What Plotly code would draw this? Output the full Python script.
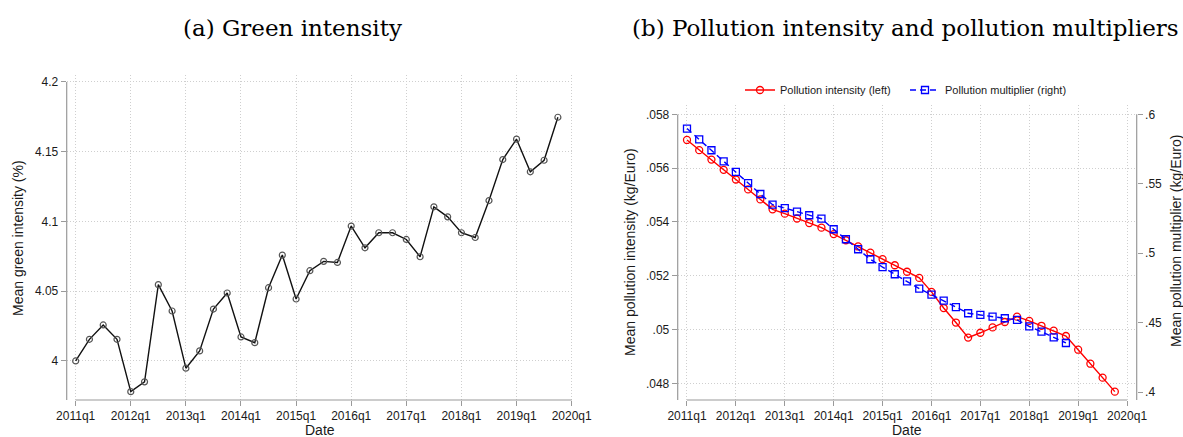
import plotly.graph_objects as go

# ---------------- data ----------------
quarters = [f"{y}q{q}" for y in range(2011, 2020) for q in range(1, 5)]
tick_labels = [f"{y}q1" for y in range(2011, 2021)]

green_intensity = [4.000, 4.0155, 4.0258, 4.0155, 3.978, 3.985, 4.0547, 4.0358,
                   3.9948, 4.0072, 4.0372, 4.0487, 4.0172, 4.0131, 4.0525, 4.0759,
                   4.0444, 4.0647, 4.0714, 4.0706, 4.0967, 4.0811, 4.0919, 4.0919,
                   4.0871, 4.0747, 4.1105, 4.1033, 4.0919, 4.0885, 4.115, 4.1444,
                   4.159, 4.1356, 4.1439, 4.1747]

pollution_intensity = [0.05705, 0.05667, 0.05632, 0.05594, 0.05558, 0.05521, 0.05484, 0.05447,
                       0.05431, 0.05413, 0.05396, 0.05379, 0.05355, 0.05332, 0.05309, 0.05286,
                       0.05262, 0.05239, 0.05215, 0.05192, 0.0514, 0.0508, 0.05026, 0.0497,
                       0.04988, 0.05008, 0.05028, 0.05048, 0.05032, 0.05014, 0.04996, 0.04976,
                       0.04925, 0.04873, 0.04821, 0.04769]

pollution_multiplier = [0.5897, 0.582, 0.5741, 0.5661, 0.5585, 0.5505, 0.5426, 0.5349,
                        0.5325, 0.5299, 0.5273, 0.5248, 0.5172, 0.51, 0.5028, 0.4956,
                        0.49, 0.4848, 0.4797, 0.4744, 0.4701, 0.4658, 0.4612, 0.4567,
                        0.4555, 0.4543, 0.4531, 0.4519, 0.4473, 0.4435, 0.4394, 0.4353]

green_ticks = [4, 4.05, 4.1, 4.15, 4.2]
green_ticktext = ["4", "4.05", "4.1", "4.15", "4.2"]
pi_ticks = [0.048, 0.05, 0.052, 0.054, 0.056, 0.058]
pi_ticktext = [".048", ".05", ".052", ".054", ".056", ".058"]
pm_ticks = [0.4, 0.45, 0.5, 0.55, 0.6]
pm_ticktext = [".4", ".45", ".5", ".55", ".6"]

# ---------------- figure ----------------
W, H = 1183, 437
xi = list(range(len(quarters)))
tickvals_x = [4 * i for i in range(len(tick_labels))]

AXC = "#9a9a9a"
GRID = "#cfcfcf"
GRIDDASH = "1px,2px"
TXT = "#1a1a1a"
SANS = "Liberation Sans, Arial, sans-serif"

fig = go.Figure()

fig.add_trace(go.Scatter(
    x=xi, y=green_intensity, mode="lines+markers", xaxis="x", yaxis="y",
    line=dict(color="#111111", width=1.4),
    marker=dict(symbol="circle-open", size=6, color="#555555", line=dict(width=1.2)),
    showlegend=False))

fig.add_trace(go.Scatter(
    x=xi, y=pollution_intensity, mode="lines+markers", xaxis="x2", yaxis="y2",
    name="Pollution intensity (left)",
    line=dict(color="#ff0000", width=1.4),
    marker=dict(symbol="circle-open", size=7, color="#ff0000", line=dict(width=1.3))))

fig.add_trace(go.Scatter(
    x=xi[:len(pollution_multiplier)], y=pollution_multiplier, mode="lines+markers",
    xaxis="x2", yaxis="y3", name="Pollution multiplier (right)",
    line=dict(color="#0000ff", width=1.4, dash="6px,4px"),
    marker=dict(symbol="square-open", size=7, color="#0000ff", line=dict(width=1.3))))

def px_x(p):
    return p / W

def px_y(p):
    return 1 - p / H

tickfont = dict(family=SANS, size=12, color=TXT)
titlefont = dict(family=SANS, size=14, color=TXT)

common_x = dict(
    tickmode="array", tickvals=tickvals_x, ticktext=tick_labels,
    showgrid=True, gridcolor=GRID, griddash=GRIDDASH, gridwidth=1,
    showline=False, zeroline=False, ticks="outside", ticklen=5,
    tickcolor=AXC, tickfont=tickfont, automargin=False,
)

common_y = dict(
    tickmode="array", showgrid=True, gridcolor=GRID, griddash=GRIDDASH, gridwidth=1,
    zeroline=False, showline=False, ticks="outside", ticklen=5, tickcolor=AXC,
    tickfont=tickfont, automargin=False,
)

fig.update_layout(
    width=W, height=H,
    margin=dict(l=0, r=0, t=0, b=0, autoexpand=False),
    paper_bgcolor="white", plot_bgcolor="white",
    xaxis=dict(domain=[px_x(66.7), px_x(574)], range=[-0.65, 36.17], anchor="y", **common_x),
    yaxis=dict(domain=[px_y(400), px_y(75)], range=[3.972, 4.205], anchor="x",
               tickvals=green_ticks, ticktext=green_ticktext, **common_y),
    xaxis2=dict(domain=[px_x(677.7), px_x(1136.7)], range=[-0.76, 36.79], anchor="y2", **common_x),
    yaxis2=dict(domain=[px_y(400), px_y(105)], range=[0.04738, 0.05835], anchor="x2",
                tickvals=pi_ticks, ticktext=pi_ticktext, **common_y),
    yaxis3=dict(range=[0.39424, 0.6067], overlaying="y2", side="right", anchor="x2",
                tickmode="array", tickvals=pm_ticks, ticktext=pm_ticktext,
                showgrid=False, zeroline=False, showline=False, automargin=False,
                ticks="outside", ticklen=5, tickcolor=AXC, tickfont=tickfont),
    legend=dict(orientation="h", x=px_x(740), y=px_y(90), xanchor="left", yanchor="middle",
                font=dict(family=SANS, size=11, color=TXT), bgcolor="rgba(0,0,0,0)",
                itemwidth=30, entrywidth=120),
)

# axis lines (Stata style: spanning the labelled scale)
shapes = []
shapes.append(dict(type="line", xref="x", yref="y domain", x0=tickvals_x[0], x1=tickvals_x[-1],
                   y0=0, y1=0, line=dict(color=AXC, width=1.2)))
shapes.append(dict(type="line", xref="x domain", yref="y", x0=0, x1=0,
                   y0=3.972, y1=green_ticks[-1], line=dict(color=AXC, width=1.2)))
shapes.append(dict(type="line", xref="x2", yref="y2 domain", x0=tickvals_x[0], x1=tickvals_x[-1],
                   y0=0, y1=0, line=dict(color=AXC, width=1.2)))
shapes.append(dict(type="line", xref="x2 domain", yref="y2", x0=0, x1=0,
                   y0=0.04738, y1=pi_ticks[-1], line=dict(color=AXC, width=1.2)))
shapes.append(dict(type="line", xref="x2 domain", yref="y3", x0=1, x1=1,
                   y0=0.39424, y1=pm_ticks[-1], line=dict(color=AXC, width=1.2)))
fig.update_layout(shapes=shapes)

# axis titles
def label(text, x, y, angle=0):
    fig.add_annotation(text=text, xref="paper", yref="paper", x=px_x(x), y=px_y(y),
                       xanchor="center", yanchor="middle", textangle=angle,
                       showarrow=False, font=titlefont)

label("Date", 320, 430)
label("Date", 907, 430)
label("Mean green intensity (%)", 18, 238, -90)
label("Mean pollution intensity (kg/Euro)", 630, 252, -90)
label("Mean pollution multiplier (kg/Euro)", 1176, 241, -90)

SERIF = "DejaVu Serif, Liberation Serif, serif"
fig.add_annotation(text="(a) Green intensity", xref="paper", yref="paper",
                   x=px_x(292.5), y=px_y(28), xanchor="center", yanchor="middle",
                   showarrow=False, font=dict(family=SERIF, size=23, color="#000000"))
fig.add_annotation(text="(b) Pollution intensity and pollution multipliers", xref="paper", yref="paper",
                   x=px_x(630), y=px_y(28), xanchor="left", yanchor="middle",
                   showarrow=False, font=dict(family=SERIF, size=23, color="#000000"))

fig.write_html(
    "out.html",
    config={"displayModeBar": False},
    post_script="document.body.style.margin='0';document.body.style.overflow='hidden';",
)
